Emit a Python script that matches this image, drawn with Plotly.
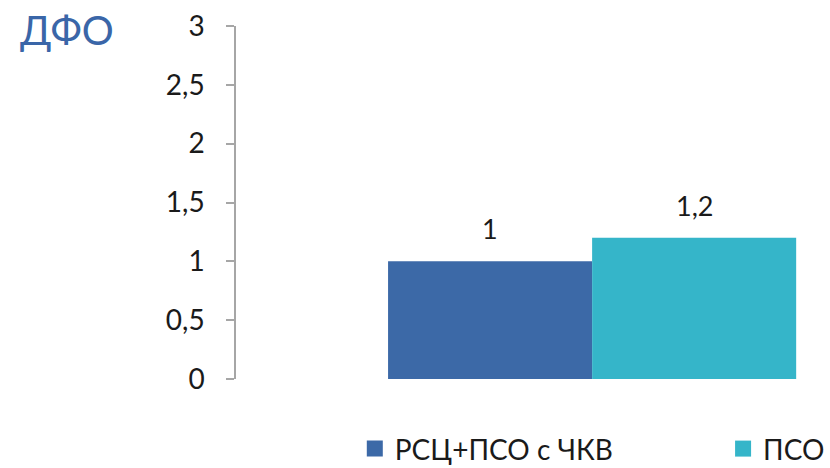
import plotly.graph_objects as go

# Region and series
region = ["ДФО"]
series_names = ["РСЦ+ПСО с ЧКВ", "ПСО"]
series_values = [[1.0], [1.2]]
series_colors = ["#3C69A7", "#35B5C9"]

y_tick_vals = [0, 0.5, 1, 1.5, 2, 2.5, 3]
y_tick_text = ["0", "0,5", "1", "1,5", "2", "2,5", "3"]

FONT = "Lato, 'Open Sans', sans-serif"
TEXT = "#1a1a1a"

# one legend box per series, side by side under the plot
legend_ids = ["legend", "legend2"]
legend_x = [0.2, 0.82]

fig = go.Figure()
for name, vals, color, lg in zip(series_names, series_values, series_colors, legend_ids):
    fig.add_trace(go.Bar(
        x=region, y=vals, name=name,
        marker=dict(color=color, line=dict(width=0)),
        showlegend=False,
    ))
    # square legend swatch
    fig.add_trace(go.Scatter(
        x=[None], y=[None], mode="markers", name=name,
        marker=dict(symbol="square", size=16, color=color),
        showlegend=True, legend=lg,
    ))

# value labels above the bars
n = len(series_names)
for i, vals in enumerate(series_values):
    for cat, v in zip(region, vals):
        fig.add_annotation(
            x=cat, y=v, text=f"{v:g}".replace(".", ","),
            xshift=(i - (n - 1) / 2) * 204, yshift=14,
            yanchor="bottom", showarrow=False,
            font=dict(family=FONT, size=27, color=TEXT),
        )

legend_style = dict(
    orientation="h", xanchor="left", y=-0.198, yanchor="middle",
    font=dict(family=FONT, size=28, color=TEXT),
    itemsizing="trace", bgcolor="rgba(0,0,0,0)",
)

fig.update_layout(
    width=830, height=468,
    margin=dict(l=236, r=0, t=26, b=89, autoexpand=False),
    paper_bgcolor="white", plot_bgcolor="white",
    barmode="group", bargap=0.427, bargroupgap=0,
    font=dict(family=FONT, color=TEXT),
    title=dict(
        text="ДФО", x=20 / 830, xanchor="left", y=1 - 31 / 468, yanchor="middle",
        font=dict(family=FONT, size=40, color="#3A66A8"),
    ),
    xaxis=dict(
        type="category", range=[-0.5, 0.334],
        showticklabels=False, showline=False, ticks="", showgrid=False,
        zeroline=False,
    ),
    yaxis=dict(
        range=[0, 3], tickvals=y_tick_vals, ticktext=y_tick_text,
        showline=True, linecolor="#A6A6A6", linewidth=1.5,
        ticks="outside", ticklen=8, tickcolor="#A6A6A6", tickwidth=1.5,
        ticklabelstandoff=16,
        tickfont=dict(family=FONT, size=28, color=TEXT),
        showgrid=False, zeroline=False,
    ),
    legend=dict(x=legend_x[0], **legend_style),
    legend2=dict(x=legend_x[1], **legend_style),
)

fig.write_html("out.html")
